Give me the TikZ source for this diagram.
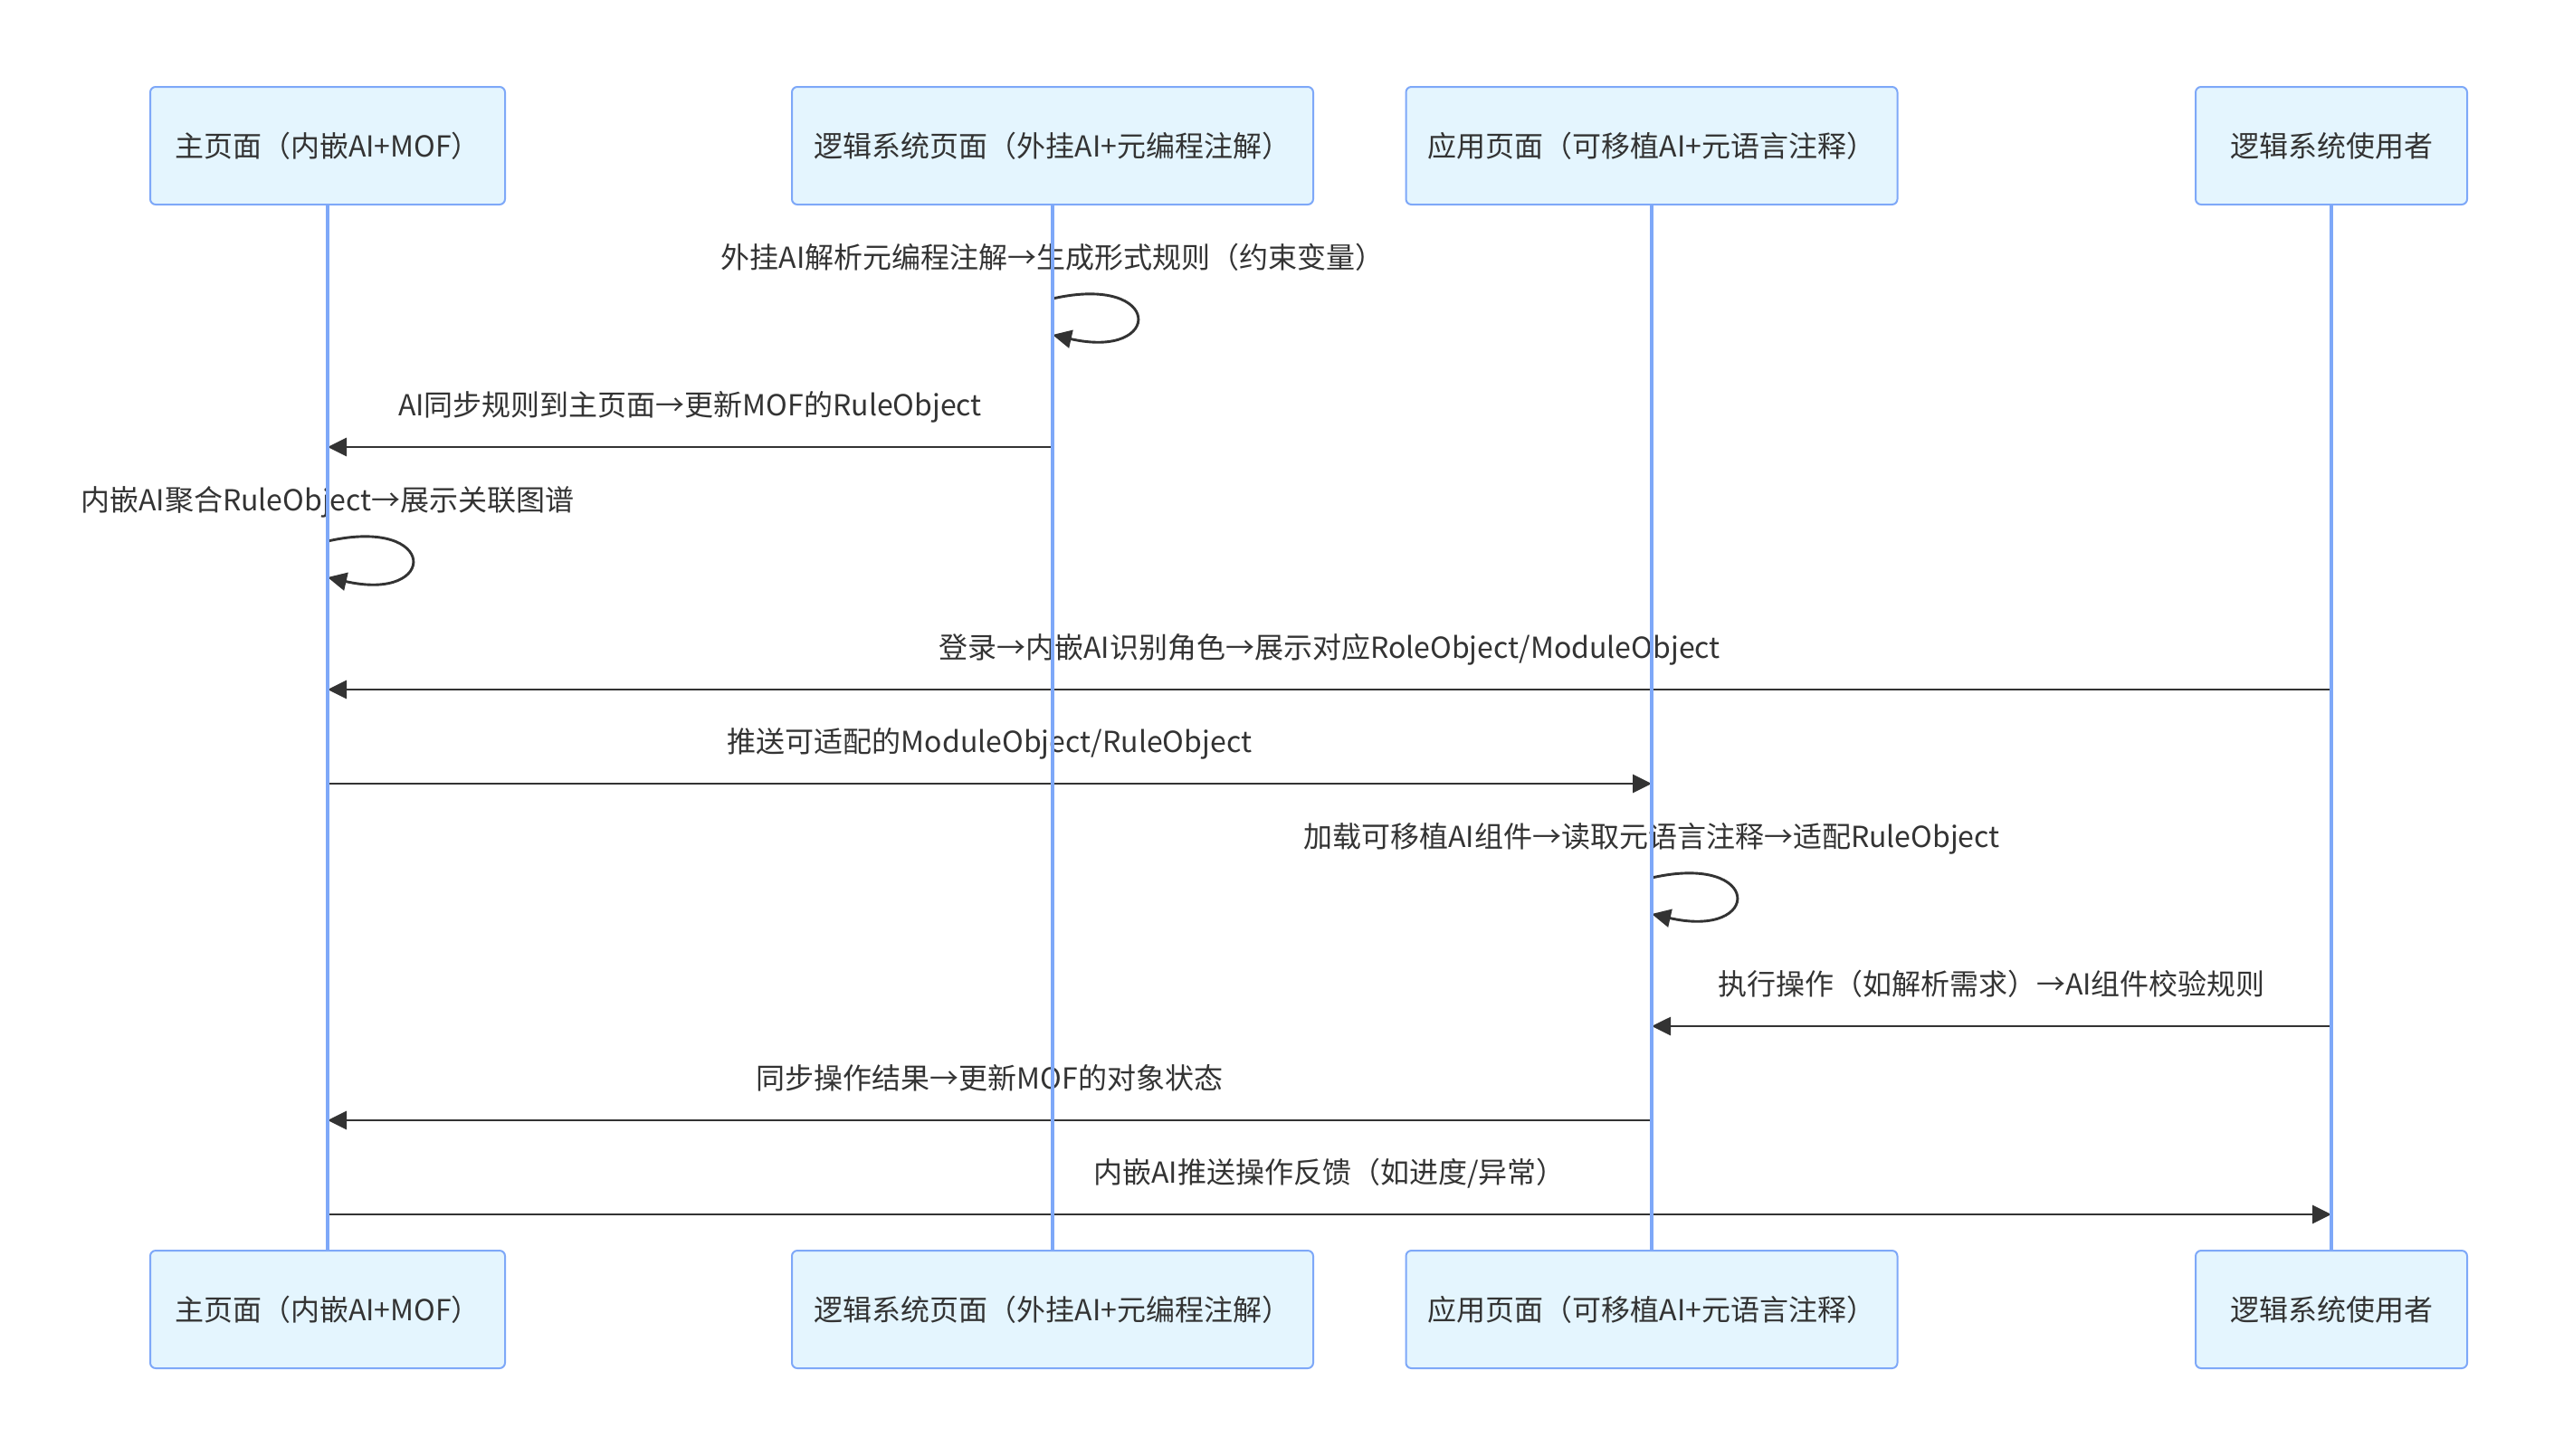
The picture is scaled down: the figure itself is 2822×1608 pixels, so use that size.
\documentclass[tikz,border=0pt]{standalone}
\usepackage{fontspec}
\setmainfont{Noto Sans CJK SC}
\usetikzlibrary{arrows.meta,calc}
\definecolor{boxfill}{HTML}{E4F5FE}
\definecolor{boxline}{HTML}{7EA8F8}
\definecolor{ink}{HTML}{333333}
\begin{document}
\begin{tikzpicture}[x=0.5pt,y=-0.5pt,
  actor/.style={draw=boxline, fill=boxfill, line width=1pt, rounded corners=3pt,
    minimum height=65pt, inner sep=0pt, text=ink, font=\fontsize{16pt}{19pt}\selectfont},
  life/.style={draw=boxline, line width=1.6pt},
  msg/.style={draw=ink, line width=1.45pt, -{Triangle[length=10.5pt,width=10pt]}},
  lbl/.style={text=ink, inner sep=0pt, anchor=base, font=\fontsize{16pt}{19pt}\selectfont},
  mlbl/.style={lbl, midway, yshift=17.5pt}]
\useasboundingbox (0,0) rectangle (2822,1608);
% actors top
\node[actor, minimum width=196pt]   (t1) at (362,161)  {主页面（内嵌AI+MOF）};
\node[actor, minimum width=288pt]   (t2) at (1163,161) {逻辑系统页面（外挂AI+元编程注解）};
\node[actor, minimum width=271.5pt] (t3) at (1825,161) {应用页面（可移植AI+元语言注释）};
\node[actor, minimum width=150pt]   (t4) at (2576,161) {逻辑系统使用者};
% actors bottom
\node[actor, minimum width=196pt]   (b1) at (362,1447)  {主页面（内嵌AI+MOF）};
\node[actor, minimum width=288pt]   (b2) at (1163,1447) {逻辑系统页面（外挂AI+元编程注解）};
\node[actor, minimum width=271.5pt] (b3) at (1825,1447) {应用页面（可移植AI+元语言注释）};
\node[actor, minimum width=150pt]   (b4) at (2576,1447) {逻辑系统使用者};
% message rows
\coordinate (s1)  at (0,330);  \coordinate (s1e) at (0,370);  \coordinate (l1) at (0,296);
\coordinate (m2)  at (0,494);
\coordinate (s2)  at (0,598);  \coordinate (s2e) at (0,638);  \coordinate (l2) at (0,564);
\coordinate (m3)  at (0,762);
\coordinate (m4)  at (0,866);
\coordinate (s3)  at (0,970);  \coordinate (s3e) at (0,1010); \coordinate (l3) at (0,936);
\coordinate (m6)  at (0,1134);
\coordinate (m7)  at (0,1238);
\coordinate (m8)  at (0,1342);
% 1 self loop on t2
\node[lbl] (n1) at (t2 |- l1) {外挂AI解析元编程注解→生成形式规则（约束变量）};
\draw[msg] (t2 |- s1) .. controls +(123,-28) and +(123,28) .. (t2 |- s1e);
% 2
\draw[msg] (t2 |- m2) -- node[mlbl] (n2) {AI同步规则到主页面→更新MOF的RuleObject} (t1 |- m2);
% 3 self loop on t1
\node[lbl] (n3) at (t1 |- l2) {内嵌AI聚合RuleObject→展示关联图谱};
\draw[msg] (t1 |- s2) .. controls +(123,-28) and +(123,28) .. (t1 |- s2e);
% 4
\draw[msg] (t4 |- m3) -- node[mlbl] (n4) {登录→内嵌AI识别角色→展示对应RoleObject/ModuleObject} (t1 |- m3);
% 5
\draw[msg] (t1 |- m4) -- node[mlbl] (n5) {推送可适配的ModuleObject/RuleObject} (t3 |- m4);
% 6 self loop on t3
\node[lbl] (n6) at (t3 |- l3) {加载可移植AI组件→读取元语言注释→适配RuleObject};
\draw[msg] (t3 |- s3) .. controls +(123,-28) and +(123,28) .. (t3 |- s3e);
% 7
\draw[msg] (t4 |- m6) -- node[mlbl] (n7) {执行操作（如解析需求）→AI组件校验规则} (t3 |- m6);
% 8
\draw[msg] (t3 |- m7) -- node[mlbl] (n8) {同步操作结果→更新MOF的对象状态} (t1 |- m7);
% 9
\draw[msg] (t1 |- m8) -- node[mlbl] (n9) {内嵌AI推送操作反馈（如进度/异常）} (t4 |- m8);
% lifelines
\draw[life] (t1.south) -- (b1.north);
\draw[life] (t2.south) -- (b2.north);
\draw[life] (t3.south) -- (b3.north);
\draw[life] (t4.south) -- (b4.north);
\end{tikzpicture}
\end{document}
